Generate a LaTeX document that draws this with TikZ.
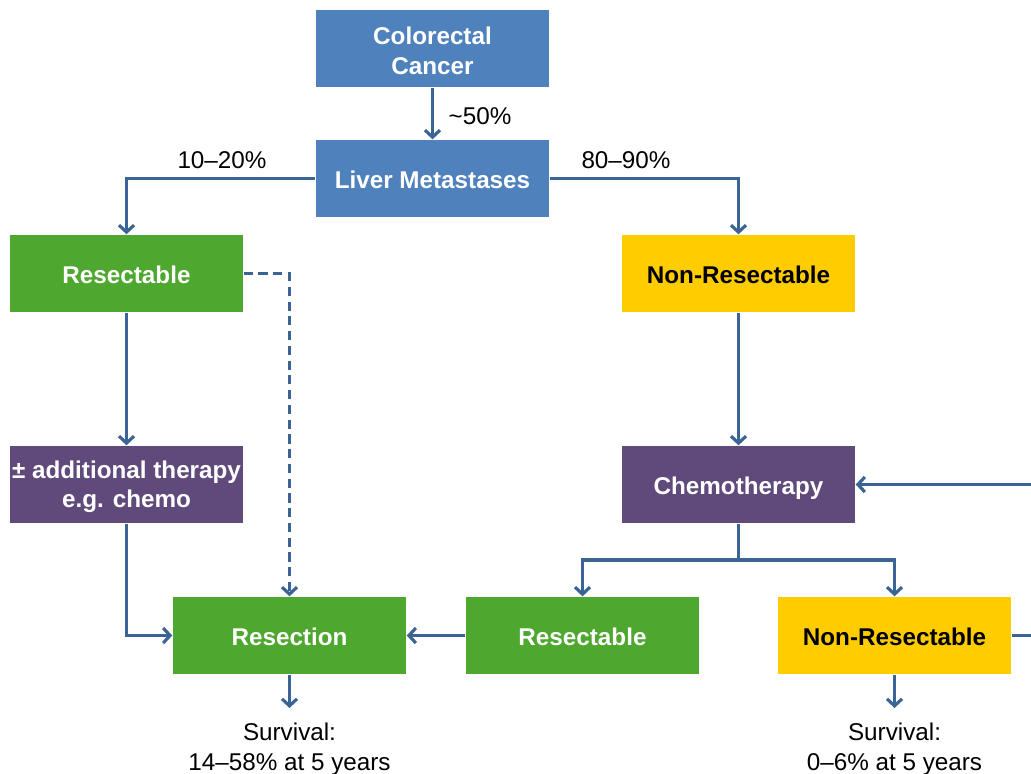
\documentclass[tikz,border=0pt]{standalone}
\usepackage{fontspec}
\setmainfont{Liberation Sans}
\usetikzlibrary{arrows.meta}

\definecolor{metblue}{HTML}{4F81BD}
\definecolor{resgreen}{HTML}{4EA72E}
\definecolor{nonyellow}{HTML}{FFCC00}
\definecolor{chempurple}{HTML}{604A7B}
\definecolor{linkblue}{HTML}{3B6496}

\begin{document}
\begin{tikzpicture}[x=1cm,y=-1cm,
  box/.style={minimum width=2.33cm,minimum height=0.77cm,inner sep=0pt,
    align=center,text=white,font=\fontsize{6.9}{8.3}\selectfont\bfseries},
  oneline/.style={text height=6.5pt,text depth=0.9pt},
  link/.style={draw=linkblue,line width=0.9pt,
    -{Straight Barb[length=0.7mm,width=1.5mm]}},
  lbl/.style={font=\fontsize{6.9}{8.5}\selectfont,inner sep=0pt,align=center}]
\useasboundingbox (0,0) rectangle (10.31,7.73);

% the boxes
\node[box,fill=metblue,text height=14.6pt,text depth=0pt] (crc) at (4.325,0.485) {Colorectal\\Cancer};
\node[box,oneline,fill=metblue] (liver) at (4.325,1.785) {Liver Metastases};
\node[box,oneline,fill=resgreen] (resL) at (1.265,2.735) {Resectable};
\node[box,oneline,fill=nonyellow,text=black] (nonresT) at (7.385,2.735) {Non-Resectable};
\node[box,fill=chempurple,text depth=0pt] (addther) at (1.265,4.845) {± additional therapy\\e.g. chemo};
\node[box,oneline,fill=chempurple] (chemo) at (7.385,4.845) {Chemotherapy};
\node[box,oneline,fill=resgreen] (resection) at (2.895,6.355) {Resection};
\node[box,oneline,fill=resgreen] (resR) at (5.825,6.355) {Resectable};
\node[box,oneline,fill=nonyellow,text=black] (nonresB) at (8.945,6.355) {Non-Resectable};

% survival texts
\node[lbl,anchor=north,inner ysep=4pt] (survL) at (2.895,7.08) {Survival:\\14--58\% at 5 years};
\node[lbl,anchor=north,inner ysep=4pt] (survR) at (8.945,7.08) {Survival:\\0--6\% at 5 years};

% percentages
\node[lbl] (p50) at (4.80,1.16) {\textasciitilde 50\%};
\node[lbl] (p1020) at (2.22,1.60) {10--20\%};
\node[lbl] (p8090) at (6.26,1.60) {80--90\%};

% the connectors
\draw[link] (crc) -- (liver);
\draw[link] (liver.west) -| (resL);
\draw[link] (liver.east) -| (nonresT);
\draw[link,dash pattern=on 2.6pt off 1.6pt] (resL.east) -| (resection);
\draw[link] (resL) -- (addther);
\draw[link] (addther) |- (resection);
\draw[link] (nonresT) -- (chemo);
\coordinate (split) at (7.385,5.60);
\draw[line width=0.9pt,draw=linkblue] (chemo) -- (split);
\draw[link] (split) -| (resR);
\draw[link] (split) -| (nonresB);
\draw[link] (resR) -- (resection);
\draw[link] (resection) -- (survL);
\draw[link] (nonresB) -- (survR);
% loop back to chemotherapy, leaving the picture on the right
\draw[link] (nonresB.east) -- ++(0.40,0) coordinate (loop) |- (chemo.east);
\end{tikzpicture}
\end{document}
